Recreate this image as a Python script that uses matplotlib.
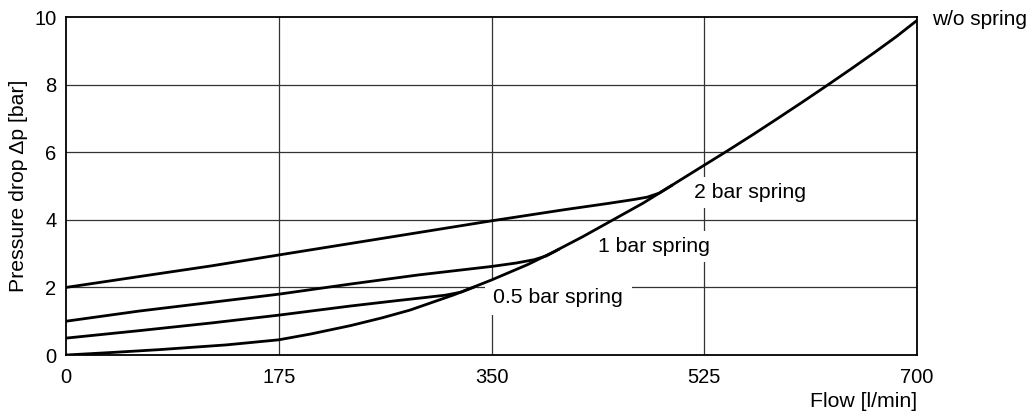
import matplotlib
matplotlib.use("Agg")
import matplotlib.pyplot as plt

plt.rcParams['font.family'] = ['Liberation Sans', 'DejaVu Sans']

# curve without spring (flow l/min, pressure drop bar)
flow_nospring = [0, 40, 77, 132, 175, 201, 234, 260, 283, 319, 350, 380, 401, 425,
                 450, 475, 492, 522, 544, 565, 585, 606, 627, 646, 665, 683, 700]
dp_nospring = [0, 0.08, 0.16, 0.3, 0.45, 0.62, 0.87, 1.1, 1.33, 1.78, 2.22, 2.68, 3.05, 3.5,
               4.0, 4.5, 4.88, 5.55, 6.04, 6.52, 6.99, 7.49, 8.0, 8.47, 8.95, 9.42, 9.9]

flow_05 = [0, 60, 120, 175, 234, 270, 295, 312, 325, 335]
dp_05 = [0.5, 0.72, 0.95, 1.18, 1.45, 1.6, 1.7, 1.77, 1.86, 2.0]

flow_1 = [0, 60, 120, 175, 234, 290, 350, 370, 385, 395, 405]
dp_1 = [1.0, 1.3, 1.56, 1.8, 2.1, 2.37, 2.62, 2.72, 2.82, 2.93, 3.12]

flow_2 = [0, 60, 120, 175, 260, 350, 410, 445, 467, 478, 488, 498]
dp_2 = [2.0, 2.32, 2.64, 2.96, 3.45, 3.97, 4.3, 4.48, 4.6, 4.67, 4.79, 5.01]

x_ticks = [0, 175, 350, 525, 700]
y_ticks = [0, 2, 4, 6, 8, 10]

fig = plt.figure(figsize=(10.3, 4.12), dpi=100)
ax = fig.add_axes([0.0641, 0.1383, 0.8262, 0.8204])

for x in x_ticks[1:-1]:
    ax.axvline(x, color='#333333', lw=0.9, zorder=1)
for y in y_ticks[1:-1]:
    ax.axhline(y, color='#333333', lw=0.9, zorder=1)

for xs, ys in [(flow_nospring, dp_nospring), (flow_05, dp_05), (flow_1, dp_1), (flow_2, dp_2)]:
    ax.plot(xs, ys, color='black', lw=2.0, zorder=3, solid_joinstyle='round')

box = dict(facecolor='white', edgecolor='none', boxstyle='square,pad=0.3')
ax.text(351.6, 1.54, '0.5 bar spring', fontsize=15.3, va='baseline', ha='left',
        bbox=dict(facecolor='white', edgecolor='none', boxstyle='square,pad=0.4'), zorder=2)
ax.text(437.3, 3.05, '1 bar spring', fontsize=15.3, va='baseline', ha='left', bbox=box, zorder=2)
ax.text(516.3, 4.645, '2 bar spring', fontsize=15.3, va='baseline', ha='left', bbox=box, zorder=2)
ax.text(712.5, 9.76, 'w/o spring', fontsize=15, va='baseline', ha='left', clip_on=False)

ax.set_xlim(0, 700)
ax.set_ylim(0, 10)
ax.set_xticks(x_ticks)
ax.set_yticks(y_ticks)
ax.tick_params(length=0, labelsize=14.5)
ax.tick_params(axis='x', pad=9)
ax.tick_params(axis='y', pad=7)
for s in ax.spines.values():
    s.set_linewidth(1.3)
    s.set_zorder(4)

ax.set_ylabel('Pressure drop Δp [bar]', fontsize=15.3, labelpad=4)
ax.set_xlabel('Flow [l/min]', fontsize=15.3, loc='right', labelpad=4)

fig.savefig('out.png', dpi=100)
